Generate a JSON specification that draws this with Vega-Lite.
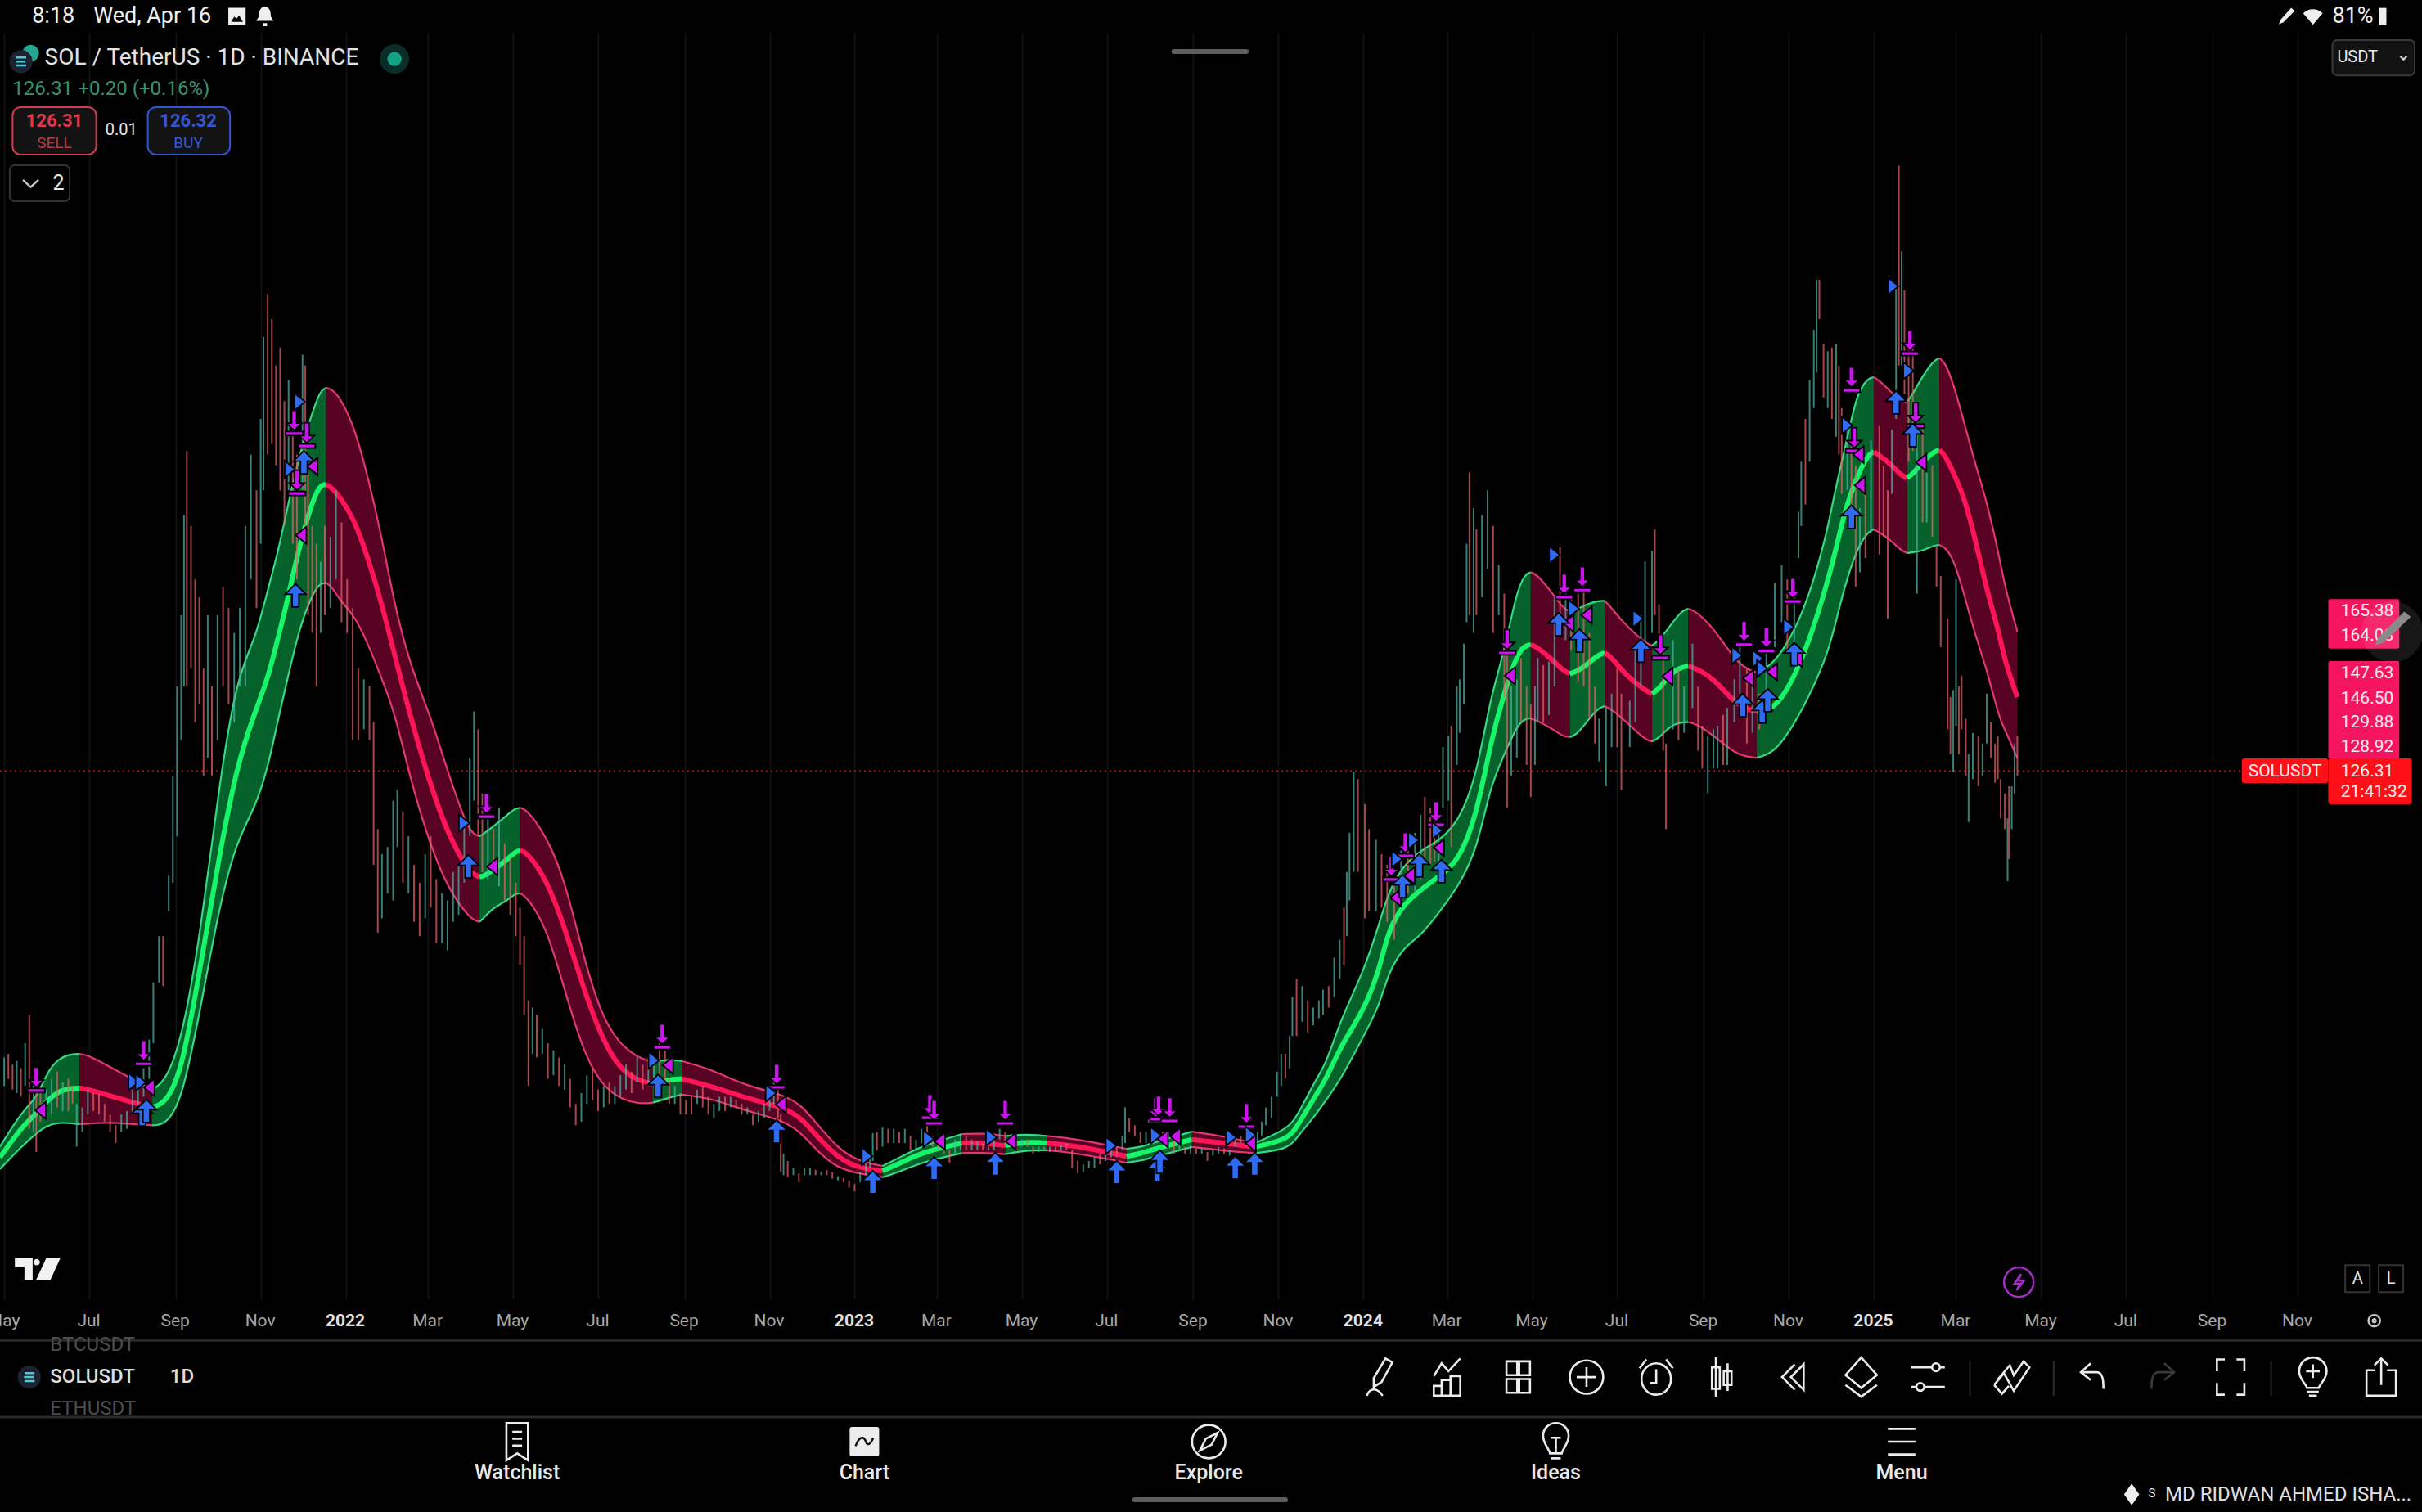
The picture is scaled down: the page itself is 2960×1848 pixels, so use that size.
{
"$schema":"https://vega.github.io/schema/vega-lite/v6.json",
"width":2842,"height":1548,
"autosize":{"type":"none"},
"padding":{"left":0,"top":40,"right":118,"bottom":260},
"background":"#000000",
"config":{"view":{"stroke":null},"font":"Roboto","text":{"font":"Roboto"}},
"datasets":{
"priceline":[{"d":"2021-04-28","d2":"2025-09-22","p":126.31}],
"candles":[
{"d":"2021-05-01","p":38,"h":46,"s":"u"},{"d":"2021-05-04","p":40,"h":47,"s":"d"},{"d":"2021-05-07","p":37,"h":44,"s":"d"},{"d":"2021-05-10","p":36,"h":45,"s":"u"},{"d":"2021-05-13","p":35,"h":43,"s":"d"},{"d":"2021-05-16","p":38,"h":50,"s":"u"},{"d":"2021-05-19","p":26,"h":58,"s":"d"},{"d":"2021-05-22","p":25,"h":40,"s":"u"},{"d":"2021-05-24","p":19.5,"h":36,"s":"d"},{"d":"2021-05-27","p":28,"h":38,"s":"d"},{"d":"2021-05-31","p":29,"h":37,"s":"u"},
{"d":"2021-06-04","p":30,"h":40,"s":"u"},{"d":"2021-06-08","p":32,"h":42,"s":"d"},{"d":"2021-06-12","p":31,"h":39,"s":"u"},{"d":"2021-06-16","p":31,"h":40,"s":"d"},{"d":"2021-06-19","p":33,"h":38,"s":"d"},{"d":"2021-06-22","p":21,"h":33,"s":"u"},{"d":"2021-06-26","p":25,"h":32,"s":"u"},{"d":"2021-06-30","p":30,"h":37,"s":"u"},
{"d":"2021-07-04","p":31,"h":36,"s":"d"},{"d":"2021-07-08","p":30,"h":36,"s":"d"},{"d":"2021-07-12","p":28,"h":33,"s":"d"},{"d":"2021-07-16","p":25,"h":30,"s":"d"},{"d":"2021-07-20","p":22,"h":27,"s":"d"},{"d":"2021-07-24","p":25,"h":30,"s":"u"},{"d":"2021-07-28","p":26,"h":31,"s":"u"},
{"d":"2021-08-01","p":30,"h":37,"s":"u"},{"d":"2021-08-05","p":33,"h":40,"s":"u"},{"d":"2021-08-09","p":35,"h":43,"s":"u"},{"d":"2021-08-13","p":40,"h":51,"s":"u"},{"d":"2021-08-16","p":50,"h":67,"s":"u"},{"d":"2021-08-20","p":67,"h":80,"s":"u"},{"d":"2021-08-23","p":66,"h":80,"s":"d"},{"d":"2021-08-27","p":87,"h":97,"s":"u"},{"d":"2021-08-30","p":95,"h":125,"s":"u"},
{"d":"2021-09-02","p":108,"h":150,"s":"u"},{"d":"2021-09-05","p":135,"h":170,"s":"u"},{"d":"2021-09-07","p":150,"h":198,"s":"u"},{"d":"2021-09-09","p":150,"h":216,"s":"d"},{"d":"2021-09-12","p":155,"h":195,"s":"d"},{"d":"2021-09-15","p":140,"h":180,"s":"d"},{"d":"2021-09-18","p":145,"h":175,"s":"d"},{"d":"2021-09-21","p":125,"h":155,"s":"d"},{"d":"2021-09-24","p":130,"h":170,"s":"u"},{"d":"2021-09-27","p":125,"h":150,"s":"d"},
{"d":"2021-10-01","p":135,"h":170,"s":"u"},{"d":"2021-10-05","p":150,"h":178,"s":"d"},{"d":"2021-10-09","p":145,"h":172,"s":"d"},{"d":"2021-10-13","p":140,"h":165,"s":"u"},{"d":"2021-10-17","p":150,"h":172,"s":"u"},{"d":"2021-10-21","p":150,"h":195,"s":"u"},{"d":"2021-10-25","p":180,"h":215,"s":"u"},{"d":"2021-10-29","p":172,"h":205,"s":"d"},
{"d":"2021-11-01","p":190,"h":225,"s":"u"},{"d":"2021-11-03","p":205,"h":248,"s":"u"},{"d":"2021-11-06","p":215,"h":260,"s":"d"},{"d":"2021-11-09","p":218,"h":253,"s":"d"},{"d":"2021-11-12","p":212,"h":240,"s":"d"},{"d":"2021-11-15","p":205,"h":245,"s":"d"},{"d":"2021-11-18","p":195,"h":230,"s":"d"},{"d":"2021-11-21","p":205,"h":236,"s":"u"},{"d":"2021-11-24","p":190,"h":222,"s":"d"},{"d":"2021-11-27","p":180,"h":215,"s":"d"},
{"d":"2021-12-01","p":205,"h":243,"s":"u"},{"d":"2021-12-03","p":195,"h":240,"s":"d"},{"d":"2021-12-05","p":170,"h":210,"s":"d"},{"d":"2021-12-08","p":165,"h":195,"s":"d"},{"d":"2021-12-11","p":150,"h":190,"s":"d"},{"d":"2021-12-14","p":165,"h":185,"s":"u"},{"d":"2021-12-17","p":170,"h":195,"s":"d"},{"d":"2021-12-21","p":172,"h":192,"s":"u"},{"d":"2021-12-25","p":180,"h":205,"s":"u"},{"d":"2021-12-29","p":168,"h":196,"s":"d"},
{"d":"2022-01-02","p":165,"h":180,"s":"d"},{"d":"2022-01-06","p":135,"h":172,"s":"d"},{"d":"2022-01-10","p":135,"h":155,"s":"d"},{"d":"2022-01-14","p":138,"h":152,"s":"u"},{"d":"2022-01-18","p":135,"h":150,"s":"d"},{"d":"2022-01-21","p":100,"h":140,"s":"d"},{"d":"2022-01-24","p":81,"h":110,"s":"d"},{"d":"2022-01-27","p":85,"h":103,"s":"u"},{"d":"2022-01-31","p":92,"h":105,"s":"u"},
{"d":"2022-02-04","p":90,"h":118,"s":"u"},{"d":"2022-02-07","p":105,"h":121,"s":"u"},{"d":"2022-02-11","p":95,"h":115,"s":"d"},{"d":"2022-02-15","p":92,"h":108,"s":"u"},{"d":"2022-02-19","p":84,"h":100,"s":"d"},{"d":"2022-02-23","p":80,"h":95,"s":"d"},{"d":"2022-02-27","p":85,"h":103,"s":"u"},
{"d":"2022-03-03","p":88,"h":108,"s":"d"},{"d":"2022-03-07","p":78,"h":96,"s":"d"},{"d":"2022-03-11","p":78,"h":92,"s":"u"},{"d":"2022-03-15","p":76,"h":90,"s":"u"},{"d":"2022-03-19","p":84,"h":98,"s":"u"},{"d":"2022-03-23","p":86,"h":100,"s":"u"},{"d":"2022-03-27","p":95,"h":112,"s":"u"},{"d":"2022-03-31","p":108,"h":130,"s":"u"},
{"d":"2022-04-03","p":118,"h":143,"s":"u"},{"d":"2022-04-06","p":108,"h":138,"s":"d"},{"d":"2022-04-09","p":98,"h":120,"s":"d"},{"d":"2022-04-13","p":96,"h":113,"s":"u"},{"d":"2022-04-17","p":98,"h":110,"s":"d"},{"d":"2022-04-21","p":94,"h":116,"s":"u"},{"d":"2022-04-25","p":90,"h":106,"s":"d"},{"d":"2022-04-29","p":86,"h":102,"s":"d"},
{"d":"2022-05-03","p":80,"h":95,"s":"d"},{"d":"2022-05-06","p":72,"h":88,"s":"d"},{"d":"2022-05-09","p":58,"h":80,"s":"d"},{"d":"2022-05-12","p":38,"h":62,"s":"d"},{"d":"2022-05-15","p":47,"h":60,"s":"u"},{"d":"2022-05-18","p":46,"h":58,"s":"d"},{"d":"2022-05-22","p":47,"h":54,"s":"u"},{"d":"2022-05-26","p":40,"h":50,"s":"d"},{"d":"2022-05-30","p":41,"h":48,"s":"u"},
{"d":"2022-06-03","p":38,"h":46,"s":"d"},{"d":"2022-06-07","p":37,"h":44,"s":"u"},{"d":"2022-06-11","p":32,"h":40,"s":"d"},{"d":"2022-06-15","p":27,"h":33,"s":"d"},{"d":"2022-06-19","p":28,"h":36,"s":"u"},{"d":"2022-06-23","p":33,"h":41,"s":"u"},{"d":"2022-06-27","p":34,"h":43,"s":"d"},
{"d":"2022-07-01","p":31,"h":37,"s":"d"},{"d":"2022-07-05","p":32,"h":38,"s":"u"},{"d":"2022-07-09","p":33,"h":39,"s":"d"},{"d":"2022-07-13","p":33,"h":38,"s":"u"},{"d":"2022-07-17","p":35,"h":41,"s":"u"},{"d":"2022-07-21","p":37,"h":44,"s":"u"},{"d":"2022-07-25","p":36,"h":42,"s":"d"},{"d":"2022-07-29","p":39,"h":46,"s":"u"},
{"d":"2022-08-02","p":37,"h":44,"s":"d"},{"d":"2022-08-06","p":38,"h":46,"s":"u"},{"d":"2022-08-10","p":38,"h":46,"s":"u"},{"d":"2022-08-14","p":41,"h":50,"s":"d"},{"d":"2022-08-18","p":38,"h":48,"s":"d"},{"d":"2022-08-21","p":33,"h":40,"s":"d"},{"d":"2022-08-25","p":33,"h":38,"s":"u"},{"d":"2022-08-29","p":30,"h":36,"s":"d"},
{"d":"2022-09-02","p":30,"h":34,"s":"d"},{"d":"2022-09-06","p":30,"h":35,"s":"d"},{"d":"2022-09-10","p":33,"h":37,"s":"u"},{"d":"2022-09-14","p":32,"h":38,"s":"d"},{"d":"2022-09-18","p":30,"h":35,"s":"d"},{"d":"2022-09-22","p":29,"h":33,"s":"u"},{"d":"2022-09-26","p":31,"h":35,"s":"u"},{"d":"2022-09-30","p":31,"h":35,"s":"d"},
{"d":"2022-10-04","p":32,"h":35,"s":"u"},{"d":"2022-10-08","p":32,"h":34,"s":"d"},{"d":"2022-10-12","p":30,"h":33,"s":"d"},{"d":"2022-10-16","p":30,"h":32,"s":"u"},{"d":"2022-10-20","p":27,"h":30,"s":"d"},{"d":"2022-10-24","p":28,"h":31,"s":"u"},{"d":"2022-10-28","p":29,"h":33,"s":"u"},
{"d":"2022-11-01","p":31,"h":35,"s":"u"},{"d":"2022-11-04","p":33,"h":39,"s":"u"},{"d":"2022-11-07","p":29,"h":38,"s":"d"},{"d":"2022-11-09","p":14,"h":30,"s":"d"},{"d":"2022-11-11","p":13,"h":19,"s":"u"},{"d":"2022-11-14","p":12.5,"h":17,"s":"d"},{"d":"2022-11-18","p":13,"h":15,"s":"u"},{"d":"2022-11-22","p":11,"h":13.5,"s":"d"},{"d":"2022-11-26","p":13,"h":15,"s":"u"},{"d":"2022-11-30","p":13,"h":15,"s":"u"},
{"d":"2022-12-04","p":13,"h":14.5,"s":"d"},{"d":"2022-12-08","p":13,"h":14,"s":"u"},{"d":"2022-12-12","p":13,"h":14.5,"s":"d"},{"d":"2022-12-16","p":12,"h":14,"s":"d"},{"d":"2022-12-20","p":11.5,"h":12.7,"s":"u"},{"d":"2022-12-24","p":11,"h":12.2,"s":"d"},{"d":"2022-12-28","p":9.5,"h":11.5,"s":"d"},
{"d":"2023-01-01","p":8.4,"h":10.5,"s":"d"},{"d":"2023-01-05","p":11,"h":14,"s":"u"},{"d":"2023-01-09","p":13,"h":17,"s":"u"},{"d":"2023-01-12","p":15,"h":18,"s":"u"},{"d":"2023-01-14","p":17,"h":24.8,"s":"u"},{"d":"2023-01-17","p":20,"h":25,"s":"d"},{"d":"2023-01-21","p":21,"h":26.4,"s":"u"},{"d":"2023-01-25","p":22,"h":26,"s":"d"},{"d":"2023-01-29","p":22,"h":26,"s":"u"},
{"d":"2023-02-02","p":22,"h":25,"s":"d"},{"d":"2023-02-06","p":22,"h":26,"s":"u"},{"d":"2023-02-10","p":20,"h":24,"s":"d"},{"d":"2023-02-14","p":20,"h":23,"s":"u"},{"d":"2023-02-18","p":22,"h":26,"s":"u"},{"d":"2023-02-22","p":22,"h":27,"s":"d"},{"d":"2023-02-26","p":21,"h":24,"s":"d"},
{"d":"2023-03-02","p":20,"h":23,"s":"d"},{"d":"2023-03-06","p":19,"h":22,"s":"d"},{"d":"2023-03-10","p":16.5,"h":20,"s":"d"},{"d":"2023-03-14","p":19,"h":23,"s":"u"},{"d":"2023-03-18","p":20,"h":24,"s":"u"},{"d":"2023-03-22","p":20,"h":24,"s":"d"},{"d":"2023-03-26","p":20,"h":23,"s":"u"},{"d":"2023-03-30","p":20,"h":22.5,"s":"u"},
{"d":"2023-04-03","p":20,"h":22,"s":"d"},{"d":"2023-04-07","p":20,"h":21,"s":"u"},{"d":"2023-04-11","p":20,"h":23,"s":"u"},{"d":"2023-04-15","p":23,"h":26,"s":"u"},{"d":"2023-04-19","p":21,"h":25,"s":"d"},{"d":"2023-04-23","p":21,"h":23,"s":"u"},{"d":"2023-04-27","p":20,"h":23,"s":"d"},
{"d":"2023-05-01","p":21,"h":23,"s":"u"},{"d":"2023-05-05","p":21,"h":23,"s":"d"},{"d":"2023-05-09","p":19,"h":21,"s":"d"},{"d":"2023-05-13","p":19.5,"h":21,"s":"u"},{"d":"2023-05-17","p":20,"h":21,"s":"d"},{"d":"2023-05-21","p":19.5,"h":21,"s":"u"},{"d":"2023-05-25","p":19.5,"h":21,"s":"d"},{"d":"2023-05-29","p":20,"h":21.5,"s":"u"},
{"d":"2023-06-02","p":20,"h":22,"s":"d"},{"d":"2023-06-06","p":15,"h":20,"s":"d"},{"d":"2023-06-10","p":13.5,"h":17,"s":"d"},{"d":"2023-06-14","p":14,"h":16,"s":"u"},{"d":"2023-06-18","p":15,"h":17,"s":"u"},{"d":"2023-06-22","p":15,"h":18,"s":"u"},{"d":"2023-06-26","p":16,"h":19,"s":"d"},{"d":"2023-06-30","p":17,"h":19,"s":"u"},
{"d":"2023-07-04","p":18,"h":20,"s":"u"},{"d":"2023-07-08","p":18,"h":21,"s":"d"},{"d":"2023-07-12","p":20,"h":24,"s":"u"},{"d":"2023-07-14","p":22,"h":32,"s":"u"},{"d":"2023-07-17","p":25,"h":29,"s":"d"},{"d":"2023-07-21","p":24,"h":27,"s":"d"},{"d":"2023-07-25","p":22,"h":25,"s":"d"},{"d":"2023-07-29","p":22,"h":25,"s":"u"},
{"d":"2023-08-02","p":22,"h":25,"s":"d"},{"d":"2023-08-06","p":22,"h":25,"s":"u"},{"d":"2023-08-10","p":23,"h":25,"s":"d"},{"d":"2023-08-14","p":23,"h":25,"s":"u"},{"d":"2023-08-18","p":19,"h":24,"s":"d"},{"d":"2023-08-22","p":20,"h":22,"s":"u"},{"d":"2023-08-26","p":19,"h":21,"s":"d"},{"d":"2023-08-30","p":19,"h":21.5,"s":"u"},
{"d":"2023-09-03","p":19,"h":20.5,"s":"d"},{"d":"2023-09-07","p":19,"h":20.5,"s":"u"},{"d":"2023-09-11","p":17,"h":19.5,"s":"d"},{"d":"2023-09-15","p":18.5,"h":20,"s":"u"},{"d":"2023-09-19","p":19,"h":21,"s":"u"},{"d":"2023-09-23","p":19,"h":20.5,"s":"d"},{"d":"2023-09-27","p":18.5,"h":20,"s":"u"},
{"d":"2023-10-01","p":21,"h":24,"s":"u"},{"d":"2023-10-05","p":22,"h":24,"s":"d"},{"d":"2023-10-09","p":21,"h":23,"s":"d"},{"d":"2023-10-13","p":20.5,"h":22,"s":"u"},{"d":"2023-10-17","p":22,"h":25,"s":"u"},{"d":"2023-10-20","p":24,"h":28,"s":"u"},{"d":"2023-10-23","p":27,"h":32,"s":"u"},{"d":"2023-10-27","p":29,"h":35,"s":"u"},{"d":"2023-10-31","p":35,"h":42,"s":"u"},
{"d":"2023-11-03","p":38,"h":47,"s":"u"},{"d":"2023-11-06","p":40,"h":47,"s":"d"},{"d":"2023-11-09","p":43,"h":52,"s":"u"},{"d":"2023-11-11","p":52,"h":63,"s":"u"},{"d":"2023-11-14","p":52,"h":68,"s":"d"},{"d":"2023-11-18","p":56,"h":66,"s":"u"},{"d":"2023-11-22","p":53,"h":62,"s":"d"},{"d":"2023-11-26","p":55,"h":60,"s":"u"},{"d":"2023-11-30","p":57,"h":62,"s":"u"},
{"d":"2023-12-03","p":58,"h":65,"s":"u"},{"d":"2023-12-07","p":60,"h":66,"s":"d"},{"d":"2023-12-11","p":63,"h":74,"s":"u"},{"d":"2023-12-15","p":68,"h":79,"s":"u"},{"d":"2023-12-18","p":72,"h":88,"s":"d"},{"d":"2023-12-20","p":80,"h":98,"s":"u"},{"d":"2023-12-22","p":90,"h":109,"s":"u"},{"d":"2023-12-25","p":98,"h":126,"s":"u"},{"d":"2023-12-28","p":98,"h":124,"s":"d"},
{"d":"2024-01-02","p":85,"h":117,"s":"d"},{"d":"2024-01-05","p":87,"h":110,"s":"d"},{"d":"2024-01-10","p":87,"h":107,"s":"u"},{"d":"2024-01-14","p":88,"h":103,"s":"d"},{"d":"2024-01-18","p":84,"h":100,"s":"d"},{"d":"2024-01-23","p":79,"h":96,"s":"d"},{"d":"2024-01-28","p":88,"h":104,"s":"u"},
{"d":"2024-02-02","p":92,"h":104,"s":"d"},{"d":"2024-02-07","p":92,"h":109,"s":"u"},{"d":"2024-02-11","p":96,"h":114,"s":"u"},{"d":"2024-02-14","p":100,"h":119,"s":"d"},{"d":"2024-02-18","p":100,"h":116,"s":"d"},{"d":"2024-02-21","p":101,"h":114,"s":"d"},{"d":"2024-02-24","p":100,"h":112,"s":"u"},{"d":"2024-02-27","p":116,"h":133,"s":"u"},
{"d":"2024-03-02","p":118,"h":136,"s":"u"},{"d":"2024-03-04","p":105,"h":139,"s":"d"},{"d":"2024-03-08","p":128,"h":150,"s":"u"},{"d":"2024-03-10","p":137,"h":152,"s":"u"},{"d":"2024-03-13","p":145,"h":162,"s":"u"},{"d":"2024-03-15","p":168,"h":190,"s":"u"},{"d":"2024-03-17","p":170,"h":210,"s":"d"},{"d":"2024-03-20","p":165,"h":200,"s":"u"},{"d":"2024-03-22","p":170,"h":194,"s":"d"},{"d":"2024-03-26","p":175,"h":198,"s":"u"},{"d":"2024-03-30","p":183,"h":205,"s":"u"},
{"d":"2024-04-03","p":165,"h":195,"s":"d"},{"d":"2024-04-07","p":170,"h":184,"s":"u"},{"d":"2024-04-11","p":147,"h":176,"s":"d"},{"d":"2024-04-13","p":116,"h":160,"s":"d"},{"d":"2024-04-16","p":125,"h":150,"s":"u"},{"d":"2024-04-20","p":130,"h":152,"s":"u"},{"d":"2024-04-23","p":140,"h":158,"s":"d"},{"d":"2024-04-27","p":128,"h":150,"s":"d"},{"d":"2024-04-30","p":119,"h":145,"s":"d"},
{"d":"2024-05-03","p":128,"h":150,"s":"u"},{"d":"2024-05-05","p":140,"h":158,"s":"u"},{"d":"2024-05-09","p":140,"h":156,"s":"d"},{"d":"2024-05-13","p":142,"h":157,"s":"u"},{"d":"2024-05-17","p":150,"h":175,"s":"u"},{"d":"2024-05-21","p":165,"h":189,"s":"d"},{"d":"2024-05-25","p":163,"h":180,"s":"u"},{"d":"2024-05-29","p":160,"h":175,"s":"d"},
{"d":"2024-06-03","p":151,"h":176,"s":"d"},{"d":"2024-06-07","p":150,"h":178,"s":"d"},{"d":"2024-06-11","p":141,"h":165,"s":"d"},{"d":"2024-06-15","p":134,"h":150,"s":"d"},{"d":"2024-06-18","p":129,"h":141,"s":"u"},{"d":"2024-06-23","p":122,"h":144,"s":"u"},{"d":"2024-06-27","p":133,"h":148,"s":"u"},
{"d":"2024-07-01","p":133,"h":155,"s":"d"},{"d":"2024-07-04","p":121,"h":148,"s":"d"},{"d":"2024-07-10","p":133,"h":146,"s":"u"},{"d":"2024-07-14","p":140,"h":160,"s":"u"},{"d":"2024-07-18","p":150,"h":170,"s":"u"},{"d":"2024-07-21","p":160,"h":185,"s":"u"},{"d":"2024-07-26","p":165,"h":188,"s":"u"},{"d":"2024-07-28","p":170,"h":194,"s":"d"},{"d":"2024-07-31","p":161,"h":173,"s":"d"},
{"d":"2024-08-03","p":132,"h":160,"s":"d"},{"d":"2024-08-05","p":110,"h":134,"s":"d"},{"d":"2024-08-10","p":138,"h":163,"s":"u"},{"d":"2024-08-14","p":135,"h":155,"s":"d"},{"d":"2024-08-18","p":137,"h":150,"s":"u"},{"d":"2024-08-24","p":144,"h":162,"s":"u"},{"d":"2024-08-28","p":132,"h":150,"s":"d"},{"d":"2024-08-31","p":127,"h":139,"s":"d"},
{"d":"2024-09-04","p":120,"h":136,"s":"u"},{"d":"2024-09-08","p":127,"h":138,"s":"u"},{"d":"2024-09-11","p":127,"h":139,"s":"u"},{"d":"2024-09-15","p":128,"h":142,"s":"d"},{"d":"2024-09-18","p":128,"h":144,"s":"u"},{"d":"2024-09-23","p":140,"h":152,"s":"u"},{"d":"2024-09-27","p":148,"h":161,"s":"u"},
{"d":"2024-10-02","p":134,"h":155,"s":"d"},{"d":"2024-10-06","p":137,"h":150,"s":"u"},{"d":"2024-10-11","p":138,"h":148,"s":"d"},{"d":"2024-10-16","p":148,"h":160,"s":"u"},{"d":"2024-10-22","p":161,"h":179,"s":"u"},{"d":"2024-10-27","p":168,"h":184,"s":"u"},{"d":"2024-10-31","p":160,"h":180,"s":"d"},
{"d":"2024-11-05","p":160,"h":175,"s":"u"},{"d":"2024-11-08","p":186,"h":199,"s":"u"},{"d":"2024-11-10","p":195,"h":213,"s":"u"},{"d":"2024-11-13","p":201,"h":225,"s":"d"},{"d":"2024-11-16","p":213,"h":236,"s":"u"},{"d":"2024-11-19","p":228,"h":250,"s":"u"},{"d":"2024-11-21","p":238,"h":264,"s":"u"},{"d":"2024-11-23","p":253,"h":264,"s":"d"},{"d":"2024-11-26","p":231,"h":246,"s":"d"},{"d":"2024-11-29","p":228,"h":244,"s":"u"},
{"d":"2024-12-02","p":225,"h":245,"s":"d"},{"d":"2024-12-05","p":220,"h":246,"s":"u"},{"d":"2024-12-07","p":215,"h":240,"s":"d"},{"d":"2024-12-09","p":204,"h":228,"s":"d"},{"d":"2024-12-13","p":205,"h":224,"s":"u"},{"d":"2024-12-16","p":195,"h":223,"s":"d"},{"d":"2024-12-19","p":178,"h":212,"s":"d"},{"d":"2024-12-22","p":182,"h":200,"s":"u"},{"d":"2024-12-26","p":186,"h":206,"s":"d"},{"d":"2024-12-30","p":193,"h":219,"s":"u"},
{"d":"2025-01-05","p":187,"h":223,"s":"d"},{"d":"2025-01-08","p":192,"h":212,"s":"d"},{"d":"2025-01-11","p":169,"h":205,"s":"d"},{"d":"2025-01-14","p":204,"h":222,"s":"u"},{"d":"2025-01-17","p":225,"h":262,"s":"u"},{"d":"2025-01-19","p":240,"h":296,"s":"d"},{"d":"2025-01-21","p":240,"h":272,"s":"u"},{"d":"2025-01-23","p":232,"h":261,"s":"d"},{"d":"2025-01-26","p":213,"h":248,"s":"d"},{"d":"2025-01-29","p":216,"h":246,"s":"d"},
{"d":"2025-02-01","p":176,"h":228,"s":"u"},{"d":"2025-02-05","p":196,"h":222,"s":"d"},{"d":"2025-02-08","p":196,"h":210,"s":"u"},{"d":"2025-02-12","p":192,"h":212,"s":"d"},{"d":"2025-02-15","p":178,"h":189,"s":"d"},{"d":"2025-02-18","p":161,"h":181,"s":"d"},{"d":"2025-02-23","p":138,"h":169,"s":"d"},{"d":"2025-02-25","p":131,"h":147,"s":"d"},{"d":"2025-02-27","p":126,"h":149,"s":"u"},
{"d":"2025-03-01","p":139,"h":180,"s":"u"},{"d":"2025-03-03","p":131,"h":150,"s":"d"},{"d":"2025-03-05","p":138,"h":153,"s":"d"},{"d":"2025-03-08","p":125,"h":141,"s":"d"},{"d":"2025-03-10","p":112,"h":131,"s":"u"},{"d":"2025-03-13","p":124,"h":137,"s":"u"},{"d":"2025-03-17","p":122,"h":136,"s":"d"},{"d":"2025-03-20","p":125,"h":134,"s":"u"},{"d":"2025-03-23","p":134,"h":148,"s":"u"},{"d":"2025-03-26","p":130,"h":140,"s":"d"},{"d":"2025-03-29","p":123,"h":134,"s":"d"},{"d":"2025-03-31","p":124,"h":136,"s":"d"},
{"d":"2025-04-02","p":113,"h":124,"s":"d"},{"d":"2025-04-05","p":110,"h":120,"s":"d"},{"d":"2025-04-07","p":95.4,"h":113,"s":"u"},{"d":"2025-04-08","p":101.6,"h":122,"s":"d"},{"d":"2025-04-10","p":110,"h":122,"s":"u"},{"d":"2025-04-12","p":120,"h":134,"s":"u"},{"d":"2025-04-14","p":125,"h":136,"s":"d"}
],
"bands":[
{"g":1,"dir":"up","d":"2021-04-28","u":21,"m":18,"l":14.7},{"g":1,"dir":"up","d":"2021-05-14","u":31,"m":26.8,"l":21.3},{"g":1,"dir":"up","d":"2021-05-25","u":35,"m":30.5,"l":25},{"g":1,"dir":"up","d":"2021-05-31","u":41.3,"m":33.5,"l":26.8},{"g":1,"dir":"up","d":"2021-06-09","u":45.9,"m":36.7,"l":27.8},{"g":1,"dir":"up","d":"2021-06-19","u":47,"m":37.4,"l":27.5},{"g":1,"dir":"up","d":"2021-06-24","u":47,"m":37.4,"l":27.3},
{"g":2,"dir":"down","d":"2021-06-24","u":47,"m":37.4,"l":27.3},{"g":2,"dir":"down","d":"2021-06-29","u":46.8,"m":37.2,"l":27.4},{"g":2,"dir":"down","d":"2021-07-13","u":44,"m":35.6,"l":27.8},{"g":2,"dir":"down","d":"2021-08-02","u":39.7,"m":33.3,"l":27.3},{"g":2,"dir":"down","d":"2021-08-15","u":37,"m":32,"l":27},
{"g":3,"dir":"up","d":"2021-08-15","u":37,"m":32,"l":27},{"g":3,"dir":"up","d":"2021-08-24","u":39,"m":33,"l":27},{"g":3,"dir":"up","d":"2021-09-05","u":50,"m":41,"l":33},{"g":3,"dir":"up","d":"2021-09-19","u":81,"m":72,"l":60},{"g":3,"dir":"up","d":"2021-10-02","u":122,"m":102,"l":88},{"g":3,"dir":"up","d":"2021-10-15","u":153,"m":128,"l":107},{"g":3,"dir":"up","d":"2021-10-28","u":163,"m":143,"l":116},{"g":3,"dir":"up","d":"2021-11-06","u":177,"m":152,"l":127},{"g":3,"dir":"up","d":"2021-11-13","u":187,"m":163,"l":140},{"g":3,"dir":"up","d":"2021-11-19","u":198,"m":172,"l":150},{"g":3,"dir":"up","d":"2021-11-29","u":215.6,"m":190,"l":167},{"g":3,"dir":"up","d":"2021-12-09","u":228,"m":203,"l":176.6},{"g":3,"dir":"up","d":"2021-12-14","u":233,"m":206.5,"l":179},{"g":3,"dir":"up","d":"2021-12-18","u":233.7,"m":206.6,"l":179},
{"g":4,"dir":"down","d":"2021-12-18","u":233.7,"m":206.6,"l":179},{"g":4,"dir":"down","d":"2021-12-22","u":233.3,"m":205.8,"l":178},{"g":4,"dir":"down","d":"2021-12-28","u":231,"m":203,"l":174},{"g":4,"dir":"down","d":"2022-01-07","u":223,"m":197,"l":170},{"g":4,"dir":"down","d":"2022-01-17","u":208.7,"m":186,"l":162},{"g":4,"dir":"down","d":"2022-01-27","u":191.7,"m":173,"l":152},{"g":4,"dir":"down","d":"2022-02-05","u":172.7,"m":159,"l":143},{"g":4,"dir":"down","d":"2022-02-17","u":155,"m":140.6,"l":123},{"g":4,"dir":"down","d":"2022-03-03","u":141.6,"m":122,"l":105},{"g":4,"dir":"down","d":"2022-03-16","u":125,"m":108,"l":93},{"g":4,"dir":"down","d":"2022-03-29","u":110.8,"m":99,"l":86},{"g":4,"dir":"down","d":"2022-04-03","u":108.5,"m":97.2,"l":84.5},{"g":4,"dir":"down","d":"2022-04-07","u":108,"m":96.6,"l":84},
{"g":5,"dir":"up","d":"2022-04-07","u":108,"m":96.6,"l":84},{"g":5,"dir":"up","d":"2022-04-11","u":109,"m":97,"l":85.5},{"g":5,"dir":"up","d":"2022-04-17","u":110.8,"m":98.6,"l":88},{"g":5,"dir":"up","d":"2022-04-27","u":114,"m":101.5,"l":90},{"g":5,"dir":"up","d":"2022-05-02","u":115.7,"m":103.5,"l":91.8},{"g":5,"dir":"up","d":"2022-05-06","u":116,"m":104,"l":92},
{"g":6,"dir":"down","d":"2022-05-06","u":116,"m":104,"l":92},{"g":6,"dir":"down","d":"2022-05-11","u":115.5,"m":103.5,"l":91},{"g":6,"dir":"down","d":"2022-05-25","u":108,"m":96,"l":82.6},{"g":6,"dir":"down","d":"2022-06-07","u":96,"m":82.6,"l":65},{"g":6,"dir":"down","d":"2022-06-20","u":75,"m":66,"l":48},{"g":6,"dir":"down","d":"2022-07-03","u":58,"m":52,"l":38.5},{"g":6,"dir":"down","d":"2022-07-16","u":50,"m":43,"l":34.6},{"g":6,"dir":"down","d":"2022-07-29","u":46,"m":39.6,"l":33},{"g":6,"dir":"down","d":"2022-08-09","u":44.7,"m":38.6,"l":33.3},
{"g":7,"dir":"up","d":"2022-08-09","u":44.7,"m":38.6,"l":33.3},{"g":7,"dir":"up","d":"2022-08-20","u":45.5,"m":39.8,"l":34.6},{"g":7,"dir":"up","d":"2022-08-30","u":45,"m":40,"l":35.6},
{"g":8,"dir":"down","d":"2022-08-30","u":45,"m":40,"l":35.6},{"g":8,"dir":"down","d":"2022-09-20","u":42.7,"m":38,"l":34.6},{"g":8,"dir":"down","d":"2022-10-15","u":38,"m":34.6,"l":31},{"g":8,"dir":"down","d":"2022-11-11","u":35.6,"m":32,"l":28.4},{"g":8,"dir":"down","d":"2022-11-24","u":32.6,"m":29,"l":24.8},{"g":8,"dir":"down","d":"2022-12-07","u":26.4,"m":23,"l":19},{"g":8,"dir":"down","d":"2022-12-20","u":20.6,"m":18,"l":15},{"g":8,"dir":"down","d":"2023-01-03","u":17,"m":15,"l":13.5},{"g":8,"dir":"down","d":"2023-01-21","u":15.6,"m":14.2,"l":12.4},
{"g":9,"dir":"up","d":"2023-01-21","u":15.6,"m":14.2,"l":12.4},{"g":9,"dir":"up","d":"2023-02-05","u":18.5,"m":16.8,"l":14.4},{"g":9,"dir":"up","d":"2023-02-19","u":21.3,"m":19.5,"l":16.7},{"g":9,"dir":"up","d":"2023-03-19","u":24.5,"m":22,"l":19.2},
{"g":10,"dir":"down","d":"2023-03-19","u":24.5,"m":22,"l":19.2},{"g":10,"dir":"down","d":"2023-04-03","u":24.8,"m":22,"l":19.3},{"g":10,"dir":"down","d":"2023-04-19","u":24,"m":21.3,"l":18.9},
{"g":11,"dir":"up","d":"2023-04-19","u":24,"m":21.3,"l":18.9},{"g":11,"dir":"up","d":"2023-05-04","u":24.5,"m":22.4,"l":20},{"g":11,"dir":"up","d":"2023-05-19","u":24,"m":22,"l":20},
{"g":12,"dir":"down","d":"2023-05-19","u":24,"m":22,"l":20},{"g":12,"dir":"down","d":"2023-06-01","u":23.5,"m":21.5,"l":19.5},{"g":12,"dir":"down","d":"2023-06-17","u":22.5,"m":20.6,"l":18.6},{"g":12,"dir":"down","d":"2023-07-15","u":20.4,"m":18.3,"l":16.5},
{"g":13,"dir":"up","d":"2023-07-15","u":20.4,"m":18.3,"l":16.5},{"g":13,"dir":"up","d":"2023-07-25","u":20.8,"m":19,"l":17},{"g":13,"dir":"up","d":"2023-08-06","u":22.5,"m":20.6,"l":18.3},{"g":13,"dir":"up","d":"2023-08-31","u":25.2,"m":23,"l":20.9},
{"g":14,"dir":"down","d":"2023-08-31","u":25.2,"m":23,"l":20.9},{"g":14,"dir":"down","d":"2023-09-24","u":23.8,"m":22,"l":19.8},{"g":14,"dir":"down","d":"2023-10-15","u":22,"m":20.9,"l":19.2},
{"g":15,"dir":"up","d":"2023-10-15","u":22,"m":20.9,"l":19.2},{"g":15,"dir":"up","d":"2023-11-08","u":26,"m":23,"l":20.2},{"g":15,"dir":"up","d":"2023-11-15","u":30,"m":27,"l":24},{"g":15,"dir":"up","d":"2023-11-28","u":40,"m":35.6,"l":30},{"g":15,"dir":"up","d":"2023-12-05","u":44,"m":39.7,"l":34},{"g":15,"dir":"up","d":"2023-12-16","u":57,"m":49.5,"l":40},{"g":15,"dir":"up","d":"2024-01-01","u":70,"m":59,"l":52},{"g":15,"dir":"up","d":"2024-01-12","u":83,"m":70,"l":60},{"g":15,"dir":"up","d":"2024-01-19","u":92.6,"m":82,"l":70},{"g":15,"dir":"up","d":"2024-01-30","u":100,"m":89,"l":77},{"g":15,"dir":"up","d":"2024-02-11","u":104,"m":93,"l":80},{"g":15,"dir":"up","d":"2024-02-25","u":107,"m":97,"l":87},{"g":15,"dir":"up","d":"2024-03-09","u":112,"m":101,"l":94},{"g":15,"dir":"up","d":"2024-03-22","u":124.5,"m":113.5,"l":103.7},{"g":15,"dir":"up","d":"2024-04-01","u":147,"m":134,"l":122},{"g":15,"dir":"up","d":"2024-04-10","u":158,"m":147,"l":130},{"g":15,"dir":"up","d":"2024-04-20","u":177,"m":159,"l":139},{"g":15,"dir":"up","d":"2024-04-26","u":181.5,"m":161.5,"l":141},{"g":15,"dir":"up","d":"2024-04-30","u":182,"m":161.7,"l":141},
{"g":16,"dir":"down","d":"2024-04-30","u":182,"m":161.7,"l":141},{"g":16,"dir":"down","d":"2024-05-04","u":181.5,"m":161.2,"l":140.5},{"g":16,"dir":"down","d":"2024-05-14","u":177,"m":158,"l":138.5},{"g":16,"dir":"down","d":"2024-05-23","u":172,"m":154.5,"l":136},{"g":16,"dir":"down","d":"2024-05-28","u":171,"m":153.6,"l":135.8},
{"g":17,"dir":"up","d":"2024-05-28","u":171,"m":153.6,"l":135.8},{"g":17,"dir":"up","d":"2024-06-02","u":171.5,"m":154.2,"l":136.5},{"g":17,"dir":"up","d":"2024-06-09","u":173,"m":156,"l":140},{"g":17,"dir":"up","d":"2024-06-17","u":174,"m":158.8,"l":143.8},{"g":17,"dir":"up","d":"2024-06-22","u":174,"m":159.4,"l":144.5},
{"g":18,"dir":"down","d":"2024-06-22","u":174,"m":159.4,"l":144.5},{"g":18,"dir":"down","d":"2024-06-27","u":172,"m":158.2,"l":143.5},{"g":18,"dir":"down","d":"2024-07-05","u":168,"m":154,"l":141},{"g":18,"dir":"down","d":"2024-07-21","u":162.2,"m":148.8,"l":135},{"g":18,"dir":"down","d":"2024-07-26","u":161.5,"m":148,"l":134.6},
{"g":19,"dir":"up","d":"2024-07-26","u":161.5,"m":148,"l":134.6},{"g":19,"dir":"up","d":"2024-07-31","u":162.8,"m":149.2,"l":135.5},{"g":19,"dir":"up","d":"2024-08-08","u":167,"m":153.7,"l":139},{"g":19,"dir":"up","d":"2024-08-16","u":171.2,"m":155.4,"l":140},{"g":19,"dir":"up","d":"2024-08-21","u":171.8,"m":155.7,"l":140},
{"g":20,"dir":"down","d":"2024-08-21","u":171.8,"m":155.7,"l":140},{"g":20,"dir":"down","d":"2024-08-27","u":171,"m":155,"l":139.5},{"g":20,"dir":"down","d":"2024-09-09","u":166,"m":152,"l":136},{"g":20,"dir":"down","d":"2024-09-24","u":157,"m":145,"l":131},{"g":20,"dir":"down","d":"2024-10-04","u":154.5,"m":143.5,"l":130.2},{"g":20,"dir":"down","d":"2024-10-09","u":154,"m":143,"l":130},
{"g":21,"dir":"up","d":"2024-10-09","u":154,"m":143,"l":130},{"g":21,"dir":"up","d":"2024-10-15","u":155,"m":143.4,"l":130.6},{"g":21,"dir":"up","d":"2024-10-25","u":158,"m":144.7,"l":132.7},{"g":21,"dir":"up","d":"2024-11-12","u":170.4,"m":158,"l":144},{"g":21,"dir":"up","d":"2024-11-28","u":192,"m":178,"l":158},{"g":21,"dir":"up","d":"2024-12-04","u":204.6,"m":187,"l":166.7},{"g":21,"dir":"up","d":"2024-12-11","u":216,"m":199,"l":178},{"g":21,"dir":"up","d":"2024-12-20","u":232.6,"m":209,"l":188.7},{"g":21,"dir":"up","d":"2024-12-28","u":236.4,"m":215,"l":193.5},{"g":21,"dir":"up","d":"2025-01-01","u":236.7,"m":215.8,"l":194},
{"g":22,"dir":"down","d":"2025-01-01","u":236.7,"m":215.8,"l":194},{"g":22,"dir":"down","d":"2025-01-06","u":235.5,"m":214.5,"l":193},{"g":22,"dir":"down","d":"2025-01-13","u":232.6,"m":212.4,"l":191},{"g":22,"dir":"down","d":"2025-01-21","u":230,"m":209,"l":188},{"g":22,"dir":"down","d":"2025-01-25","u":229.8,"m":208.5,"l":187.4},
{"g":23,"dir":"up","d":"2025-01-25","u":229.8,"m":208.5,"l":187.4},{"g":23,"dir":"up","d":"2025-01-29","u":232,"m":209.5,"l":187.6},{"g":23,"dir":"up","d":"2025-02-05","u":237,"m":213,"l":188},{"g":23,"dir":"up","d":"2025-02-13","u":241.4,"m":215.8,"l":189.5},{"g":23,"dir":"up","d":"2025-02-17","u":242,"m":216.3,"l":189.7},
{"g":24,"dir":"down","d":"2025-02-17","u":242,"m":216.3,"l":189.7},{"g":24,"dir":"down","d":"2025-02-21","u":241,"m":215,"l":189},{"g":24,"dir":"down","d":"2025-02-27","u":235,"m":210,"l":186},{"g":24,"dir":"down","d":"2025-03-07","u":223.8,"m":203,"l":175.7},{"g":24,"dir":"down","d":"2025-03-15","u":212,"m":191,"l":164},{"g":24,"dir":"down","d":"2025-03-23","u":202,"m":177,"l":155},{"g":24,"dir":"down","d":"2025-04-01","u":186.5,"m":165,"l":141},{"g":24,"dir":"down","d":"2025-04-05","u":178,"m":157,"l":138},{"g":24,"dir":"down","d":"2025-04-14","u":165.4,"m":147,"l":129.9}
],
"signals":[
{"k":"dn","d":"2021-05-24","p":39.7},{"k":"dn","d":"2021-08-09","p":47.2},{"k":"dn","d":"2021-11-25","p":223.9},{"k":"dn","d":"2021-12-04","p":220.4},{"k":"dn","d":"2021-11-27","p":207.1},{"k":"dn","d":"2022-04-12","p":116.5},{"k":"dn","d":"2022-08-16","p":51.8},{"k":"dn","d":"2022-11-06","p":40.6},{"k":"dn","d":"2023-02-24","p":32.1},{"k":"dn","d":"2023-02-27","p":30.5},{"k":"dn","d":"2023-04-19","p":30.5},{"k":"dn","d":"2023-08-05","p":31.2},{"k":"dn","d":"2023-08-07","p":31.7},{"k":"dn","d":"2023-08-15","p":31.2},{"k":"dn","d":"2023-10-09","p":29.6},{"k":"dn","d":"2024-01-21","p":98.9},{"k":"dn","d":"2024-01-31","p":105.5},{"k":"dn","d":"2024-02-22","p":114.2},{"k":"dn","d":"2024-04-13","p":162.4},{"k":"dn","d":"2024-05-24","p":178},{"k":"dn","d":"2024-06-06","p":180},{"k":"dn","d":"2024-08-01","p":161},{"k":"dn","d":"2024-09-30","p":164.7},{"k":"dn","d":"2024-10-16","p":163},{"k":"dn","d":"2024-11-04","p":176.8},{"k":"dn","d":"2024-12-16","p":236},{"k":"dn","d":"2024-12-18","p":219},{"k":"dn","d":"2025-01-27","p":246.3},{"k":"dn","d":"2025-01-31","p":226},
{"k":"tl","d":"2021-05-27","p":31.2},{"k":"tl","d":"2021-08-13","p":37.6},{"k":"tl","d":"2021-12-08","p":211.7},{"k":"tl","d":"2021-11-30","p":192.4},{"k":"tl","d":"2022-04-16","p":99.5},{"k":"tl","d":"2022-08-20","p":43.8},{"k":"tl","d":"2022-11-09","p":32.8},{"k":"tl","d":"2023-03-03","p":22.5},{"k":"tl","d":"2023-04-23","p":22.5},{"k":"tl","d":"2023-08-10","p":23.2},{"k":"tl","d":"2023-08-19","p":23.9},{"k":"tl","d":"2023-10-12","p":22},{"k":"tl","d":"2024-01-24","p":90.8},{"k":"tl","d":"2024-02-03","p":97},{"k":"tl","d":"2024-02-24","p":104.8},{"k":"tl","d":"2024-04-15","p":153},{"k":"tl","d":"2024-05-27","p":167.7},{"k":"tl","d":"2024-06-09","p":170},{"k":"tl","d":"2024-08-06","p":152.8},{"k":"tl","d":"2024-10-03","p":152.3},{"k":"tl","d":"2024-10-20","p":154.1},{"k":"tl","d":"2024-11-07","p":157.8},{"k":"tl","d":"2024-12-22","p":206.4},{"k":"tl","d":"2024-12-21","p":215},{"k":"tl","d":"2025-02-04","p":212.8},
{"k":"tr","d":"2021-08-02","p":39.2},{"k":"tr","d":"2021-08-07","p":39},{"k":"tr","d":"2021-11-22","p":210.9},{"k":"tr","d":"2021-11-29","p":229.8},{"k":"tr","d":"2022-03-27","p":111.7},{"k":"tr","d":"2022-08-10","p":45.2},{"k":"tr","d":"2022-11-02","p":36},{"k":"tr","d":"2023-01-10","p":18.3},{"k":"tr","d":"2023-02-23","p":23.2},{"k":"tr","d":"2023-04-09","p":23.6},{"k":"tr","d":"2023-07-04","p":21.3},{"k":"tr","d":"2023-08-05","p":24.1},{"k":"tr","d":"2023-09-28","p":23.6},{"k":"tr","d":"2023-10-12","p":24.3},{"k":"tr","d":"2024-01-25","p":101.6},{"k":"tr","d":"2024-02-06","p":106.9},{"k":"tr","d":"2024-02-23","p":109.6},{"k":"tr","d":"2024-05-17","p":186.9},{"k":"tr","d":"2024-05-31","p":171.8},{"k":"tr","d":"2024-07-16","p":169},{"k":"tr","d":"2024-09-25","p":158.7},{"k":"tr","d":"2024-10-10","p":157.8},{"k":"tr","d":"2024-10-13","p":155},{"k":"tr","d":"2024-11-01","p":166.7},{"k":"tr","d":"2024-12-13","p":223.2},{"k":"tr","d":"2025-01-15","p":262.2},{"k":"tr","d":"2025-01-26","p":238.5},
{"k":"up","d":"2021-08-08","p":30},{"k":"up","d":"2021-08-11","p":31},{"k":"up","d":"2021-11-26","p":175.5},{"k":"up","d":"2021-12-02","p":212.8},{"k":"up","d":"2022-03-30","p":99.5},{"k":"up","d":"2022-08-13","p":38},{"k":"up","d":"2022-11-06","p":25.2},{"k":"up","d":"2023-01-14","p":11},{"k":"up","d":"2023-02-27","p":14.9},{"k":"up","d":"2023-04-12","p":16.1},{"k":"up","d":"2023-07-08","p":13.8},{"k":"up","d":"2023-08-06","p":14.4},{"k":"up","d":"2023-08-08","p":16.7},{"k":"up","d":"2023-10-01","p":15.1},{"k":"up","d":"2023-10-15","p":16.1},{"k":"up","d":"2024-01-29","p":94},{"k":"up","d":"2024-02-10","p":99.8},{"k":"up","d":"2024-02-26","p":98.2},{"k":"up","d":"2024-05-20","p":167.4},{"k":"up","d":"2024-06-04","p":162.8},{"k":"up","d":"2024-07-18","p":160},{"k":"up","d":"2024-09-29","p":144.7},{"k":"up","d":"2024-10-13","p":142.9},{"k":"up","d":"2024-10-17","p":146.1},{"k":"up","d":"2024-11-05","p":159},{"k":"up","d":"2024-12-16","p":197.5},{"k":"up","d":"2025-01-17","p":229.6},{"k":"up","d":"2025-01-29","p":220.4}
]
},
"encoding":{
"x":{"field":"d","type":"temporal","title":null,"scale":{"type":"utc","domain":["2021-04-28","2025-11-21"]},
"axis":{"orient":"bottom","title":null,"domain":false,"ticks":false,"grid":true,"gridColor":"#151515","gridWidth":1.5,"labelFont":"Roboto","labelFontSize":21,"labelColor":{"condition":{"test":"utcmonth(datum.value)==0","value":"#e0e0e0"},"value":"#a8a8a8"},"labelFontWeight":{"condition":{"test":"utcmonth(datum.value)==0","value":"bold"},"value":"normal"},"labelPadding":15,"labelOffset":-1,"labelOverlap":false,"labelBound":false,"labelFlush":false,
"values":["2021-05-01","2021-07-01","2021-09-01","2021-11-01","2022-01-01","2022-03-01","2022-05-01","2022-07-01","2022-09-01","2022-11-01","2023-01-01","2023-03-01","2023-05-01","2023-07-01","2023-09-01","2023-11-01","2024-01-01","2024-03-01","2024-05-01","2024-07-01","2024-09-01","2024-11-01","2025-01-01","2025-03-01","2025-05-01","2025-07-01","2025-09-01","2025-11-01"],
"labelExpr":"utcmonth(datum.value)==0 ? utcFormat(datum.value,'%Y') : utcFormat(datum.value,'%b')"}},
"y":{"field":"p","type":"quantitative","title":null,"scale":{"domain":[-21.79,333.26],"nice":false,"zero":false},
"axis":{"orient":"right","title":null,"domain":false,"ticks":false,"grid":true,"gridColor":"#191919","gridWidth":1.5,"labelFont":"Roboto","labelFontSize":21,"labelColor":"#a8a8a8","labelPadding":19,"labelOverlap":false,"labelBound":false,"labelFlush":false,
"values":[-20,0,20,40,60,80,100,120,140,160,180,200,220,240,260,280,300,320],
"labelExpr":"datum.value<0 ? '' : format(datum.value,'.2f')"}}
},
"resolve":{"scale":{"color":"independent","shape":"independent"}},
"layer":[
{"data":{"name":"priceline"},"mark":{"type":"rule","stroke":"#a01c1c","strokeWidth":1.5,"strokeDash":[2,4]},"encoding":{"x2":{"field":"d2"}}},
{"data":{"name":"bands"},"mark":{"type":"area","interpolate":"basis","opacity":1},
"encoding":{"y":{"field":"u","type":"quantitative","axis":null},"y2":{"field":"l"},"detail":{"field":"g"},
"color":{"field":"dir","type":"nominal","legend":null,"scale":{"domain":["up","down"],"range":["#05622b","#590324"]}}}},
{"data":{"name":"bands"},"mark":{"type":"line","interpolate":"basis","strokeWidth":2.2},
"encoding":{"y":{"field":"u","type":"quantitative","axis":null},"detail":{"field":"g"},
"color":{"field":"dir","type":"nominal","legend":null,"scale":{"domain":["up","down"],"range":["#37d884","#e0386f"]}}}},
{"data":{"name":"bands"},"mark":{"type":"line","interpolate":"basis","strokeWidth":2.2},
"encoding":{"y":{"field":"l","type":"quantitative","axis":null},"detail":{"field":"g"},
"color":{"field":"dir","type":"nominal","legend":null,"scale":{"domain":["up","down"],"range":["#37d884","#e0386f"]}}}},
{"data":{"name":"bands"},"mark":{"type":"line","interpolate":"basis","strokeWidth":6},
"encoding":{"y":{"field":"m","type":"quantitative","axis":null},"detail":{"field":"g"},
"color":{"field":"dir","type":"nominal","legend":null,"scale":{"domain":["up","down"],"range":["#17f56a","#ff1458"]}}}},
{"data":{"name":"candles"},"mark":{"type":"rule","strokeWidth":2,"opacity":0.72},
"encoding":{"y2":{"field":"h"},"color":{"field":"s","type":"nominal","legend":null,"scale":{"domain":["u","d"],"range":["#4fb3a3","#e8626a"]}}}},
{"data":{"name":"signals"},"mark":{"type":"point","filled":true,"size":961,"opacity":1,"stroke":"#000000","strokeWidth":1.8},
"encoding":{"shape":{"field":"k","type":"nominal","legend":null,"scale":{"domain":["up","dn","tl","tr"],"range":["M0,-0.92 L0.82,-0.1 L0.27,-0.1 L0.27,0.9 L-0.27,0.9 L-0.27,-0.1 L-0.82,-0.1 Z","M-0.2,-1 L0.2,-1 L0.2,0.02 L0.6,0.02 L0,0.6 L-0.6,0.02 L-0.2,0.02 Z M-0.68,0.68 L0.68,0.68 L0.68,1 L-0.68,1 Z","M0.42,-0.68 L0.42,0.68 L-0.42,0 Z","M-0.42,-0.68 L-0.42,0.68 L0.42,0 Z"]}},
"color":{"field":"k","type":"nominal","legend":null,"scale":{"domain":["up","dn","tl","tr"],"range":["#2f6bf2","#cc14ee","#cc14ee","#2f6bf2"]}}}},
{"data":{"values":[{"d":"2021-04-28","d2":"2026-01-30","p":-33.3},{"d":"2021-04-28","d2":"2026-01-30","p":-54.8}]},"mark":{"type":"rule","stroke":"#2a2a2a","strokeWidth":3},"encoding":{"x2":{"field":"d2"}}},
{"data":{"values":[{"d":"2025-03-11","p":-39.2,"p2":-48.9},{"d":"2025-05-10","p":-39.2,"p2":-48.9},{"d":"2025-10-13","p":-39.2,"p2":-48.9}]},"mark":{"type":"rule","stroke":"#2a2a2a","strokeWidth":2},"encoding":{"y2":{"field":"p2"}}},
{"data":{"values":[{"d":"2023-08-18","d2":"2023-10-09","p":328},{"d":"2023-07-21","d2":"2023-11-06","p":-78}]},"mark":{"type":"rule","stroke":"#5e5e5e","strokeWidth":6,"strokeCap":"round"},"encoding":{"x2":{"field":"d2"}}},
{"data":{"values":[{"d":"2025-11-23","d2":"2026-01-24","p":333.26,"p2":319.5}]},"mark":{"type":"rect","fill":"#000000"},"encoding":{"x2":{"field":"d2"},"y2":{"field":"p2"}}},
{"data":{"values":[{"d":"2025-11-26","d2":"2026-01-24","p":331.2,"p2":321.3}]},"mark":{"type":"rect","fill":"#121212","stroke":"#3a3a3a","strokeWidth":2,"cornerRadius":6},"encoding":{"x2":{"field":"d2"},"y2":{"field":"p2"}}},
{"data":{"values":[{"d":"2021-05-07","d2":"2021-07-06","p":312.4,"p2":299.1,"side":"sell"},{"d":"2021-08-12","d2":"2021-10-10","p":312.4,"p2":299.1,"side":"buy"}]},"mark":{"type":"rect","fill":"#131313","strokeWidth":2,"cornerRadius":10},"encoding":{"x2":{"field":"d2"},"y2":{"field":"p2"},"stroke":{"field":"side","type":"nominal","legend":null,"scale":{"domain":["sell","buy"],"range":["#d6384e","#2f55d4"]}}}},
{"data":{"values":[{"d":"2021-05-05","d2":"2021-06-17","p":296.1,"p2":286}]},"mark":{"type":"rect","fill":"#000000","stroke":"#333333","strokeWidth":2,"cornerRadius":6},"encoding":{"x2":{"field":"d2"},"y2":{"field":"p2"}}},
{"data":{"values":[{"d":"2025-11-23","d2":"2026-01-13","p":174.5,"p2":160.6},{"d":"2025-11-23","d2":"2026-01-13","p":157.1,"p2":129.8}]},"mark":{"type":"rect","fill":"#f5145f","cornerRadius":2},"encoding":{"x2":{"field":"d2"},"y2":{"field":"p2"}}},
{"data":{"values":[{"d":"2025-09-22","d2":"2025-11-23","p":129.8,"p2":122.9},{"d":"2025-11-23","d2":"2026-01-22","p":129.8,"p2":117}]},"mark":{"type":"rect","fill":"#ff0f17","cornerRadius":3},"encoding":{"x2":{"field":"d2"},"y2":{"field":"p2"}}},
{"data":{"values":[{"t":"165.38","d":"2025-12-02","p":171.1},{"t":"164.08","d":"2025-12-02","p":164.2},{"t":"147.63","d":"2025-12-02","p":153.7},{"t":"146.50","d":"2025-12-02","p":146.6},{"t":"129.88","d":"2025-12-02","p":139.9},{"t":"128.92","d":"2025-12-02","p":133},{"t":"126.31","d":"2025-12-02","p":126.1},{"t":"21:41:32","d":"2025-12-02","p":120.4}]},"mark":{"type":"text","font":"Roboto","fontSize":21,"align":"left","baseline":"middle","fill":"#f6e8ec"},"encoding":{"text":{"field":"t"}}},
{"data":{"values":[{"t":"SOLUSDT","d":"2025-10-23","p":126.1}]},"mark":{"type":"text","font":"Roboto","fontSize":21,"align":"center","baseline":"middle","fill":"#f6e8ec"},"encoding":{"text":{"field":"t"}}},
{"data":{"values":[{"d":"2026-01-08","p":165.3}]},"mark":{"type":"point","filled":true,"shape":"circle","size":5600,"fill":"#ffffff","opacity":0.09}},
{"data":{"values":[{"d":"2026-01-08","p":166.3}]},"mark":{"type":"point","filled":true,"size":700,"opacity":1,"fill":"#8a8a8a","shape":"M1.1,-1.55 L1.7,-1.05 L-0.8,1.3 L-1.6,1.6 L-1.3,0.85 Z"}},
{"data":{"values":[{"t":"8:18","d":"2021-05-21","p":337.8},{"t":"Wed, Apr 16","d":"2021-07-04","p":337.8},{"t":"81%","d":"2025-11-26","p":337.8}]},"mark":{"type":"text","font":"Roboto","fontSize":27,"align":"left","baseline":"middle","fill":"#f0f0f0"},"encoding":{"text":{"field":"t"}}},
{"data":{"values":[{"t":"SOL / TetherUS · 1D · BINANCE","d":"2021-05-30","p":326.1}]},"mark":{"type":"text","font":"Roboto","fontSize":28,"align":"left","baseline":"middle","fill":"#e2e2e2"},"encoding":{"text":{"field":"t"}}},
{"data":{"values":[{"t":"126.31","d":"2021-05-07","p":317.4},{"t":"+0.20 (+0.16%)","d":"2021-06-23","p":317.4}]},"mark":{"type":"text","font":"Roboto","fontSize":24,"align":"left","baseline":"middle","fill":"#39906f"},"encoding":{"text":{"field":"t"}}},
{"data":{"values":[{"t":"126.31","d":"2021-06-06","p":308.5,"side":"sell"},{"t":"126.32","d":"2021-09-10","p":308.5,"side":"buy"}]},"mark":{"type":"text","font":"Roboto","fontSize":22,"fontWeight":"bold","align":"center","baseline":"middle"},"encoding":{"text":{"field":"t"},"color":{"field":"side","type":"nominal","legend":null,"scale":{"domain":["sell","buy"],"range":["#e0384f","#3557d6"]}}}},
{"data":{"values":[{"t":"SELL","d":"2021-06-06","p":302.3,"side":"sell"},{"t":"BUY","d":"2021-09-10","p":302.3,"side":"buy"}]},"mark":{"type":"text","font":"Roboto","fontSize":19,"align":"center","baseline":"middle"},"encoding":{"text":{"field":"t"},"color":{"field":"side","type":"nominal","legend":null,"scale":{"domain":["sell","buy"],"range":["#b43a4a","#3557d6"]}}}},
{"data":{"values":[{"t":"0.01","d":"2021-07-24","p":306},{"t":"USDT","d":"2025-12-14","p":326.3},{"t":"A","d":"2025-12-14","p":-16},{"t":"L","d":"2026-01-07","p":-16}]},"mark":{"type":"text","font":"Roboto","fontSize":20,"align":"center","baseline":"middle","fill":"#e6e6e6"},"encoding":{"text":{"field":"t"}}},
{"data":{"values":[{"t":"2","d":"2021-06-09","p":291.1}]},"mark":{"type":"text","font":"Roboto","fontSize":25,"align":"center","baseline":"middle","fill":"#e6e6e6"},"encoding":{"text":{"field":"t"}}},
{"data":{"values":[{"t":"SOLUSDT","d":"2021-06-03","p":-43.6},{"t":"1D","d":"2021-08-28","p":-43.6}]},"mark":{"type":"text","font":"Roboto","fontSize":24,"fontWeight":500,"align":"left","baseline":"middle","fill":"#dddddd"},"encoding":{"text":{"field":"t"}}},
{"data":{"values":[{"t":"BTCUSDT","d":"2021-06-03","p":-34.6},{"t":"ETHUSDT","d":"2021-06-03","p":-52.6}]},"mark":{"type":"text","font":"Roboto","fontSize":24,"align":"left","baseline":"middle","fill":"#4c4c4c"},"encoding":{"text":{"field":"t"}}},
{"data":{"values":[{"t":"Watchlist","d":"2022-05-04","p":-70.4},{"t":"Chart","d":"2023-01-08","p":-70.4},{"t":"Explore","d":"2023-09-12","p":-70.4},{"t":"Ideas","d":"2024-05-18","p":-70.4},{"t":"Menu","d":"2025-01-21","p":-70.4}]},"mark":{"type":"text","font":"Roboto","fontSize":25,"fontWeight":500,"align":"center","baseline":"middle","fill":"#e8e8e8"},"encoding":{"text":{"field":"t"}}},
{"data":{"values":[{"t":"MD RIDWAN AHMED ISHA...","d":"2025-07-29","p":-76.7}]},"mark":{"type":"text","font":"Roboto","fontSize":24,"align":"left","baseline":"middle","fill":"#e0e0e0"},"encoding":{"text":{"field":"t"}}},
{"data":{"values":[{"t":"S","d":"2025-07-17","p":-76.2}]},"mark":{"type":"text","font":"Roboto","fontSize":15,"align":"left","baseline":"middle","fill":"#e0e0e0"},"encoding":{"text":{"field":"t"}}},
{"data":{"values":[{"k":"pencil","d":"2024-01-14","p":-43.6},{"k":"chart","d":"2024-03-02","p":-43.6},{"k":"grid","d":"2024-04-21","p":-43.6},{"k":"plus","d":"2024-06-09","p":-43.6},{"k":"alarm","d":"2024-07-29","p":-43.6},{"k":"candle","d":"2024-09-14","p":-43.6},{"k":"rewind","d":"2024-11-04","p":-43.6},{"k":"layers","d":"2024-12-23","p":-43.6},{"k":"sliders","d":"2025-02-09","p":-43.6},{"k":"zig","d":"2025-04-10","p":-43.6},{"k":"undo","d":"2025-06-07","p":-43.6},{"k":"full","d":"2025-09-14","p":-43.6},{"k":"bulbplus","d":"2025-11-12","p":-43.6},{"k":"share","d":"2025-12-31","p":-43.6},{"k":"bookmark","d":"2022-05-04","p":-61.7},{"k":"compass","d":"2023-09-12","p":-61.7},{"k":"bulb","d":"2024-05-18","p":-61.7},{"k":"menu","d":"2025-01-21","p":-61.7}]},
"mark":{"type":"point","filled":false,"size":2300,"opacity":1,"stroke":"#ececec","strokeWidth":2.6},
"encoding":{"shape":{"field":"k","type":"nominal","legend":null,"scale":{"domain":["pencil","chart","grid","plus","alarm","candle","rewind","layers","sliders","zig","undo","full","bulbplus","share","bookmark","compass","bulb","menu"],
"range":[
"M0.2,-0.95 L0.55,-0.75 L0,0.25 L-0.4,0.5 L-0.4,0.05 Z M-0.75,0.95 C-0.6,0.5 -0.2,0.55 0.05,0.95",
"M-0.75,-0.05 L-0.35,-0.7 L0,-0.3 L0.6,-0.95 M-0.75,0.95 V0.45 H-0.35 V0.95 Z M-0.35,0.95 V0.15 H0.1 V0.95 Z M0.1,0.95 V-0.05 H0.6 V0.95 Z",
"M-0.6,-0.8 H-0.05 V-0.1 H-0.6 Z M0.05,-0.8 H0.6 V-0.1 H0.05 Z M-0.6,0.1 H-0.05 V0.8 H-0.6 Z M0.05,0.1 H0.6 V0.8 H0.05 Z",
"M0.85,0 A0.85,0.85 0 1 1 -0.85,0 A0.85,0.85 0 1 1 0.85,0 M0,-0.5 V0.5 M-0.5,0 H0.5",
"M0.75,0.1 A0.75,0.8 0 1 1 -0.75,0.1 A0.75,0.8 0 1 1 0.75,0.1 M0,-0.4 V0.3 H-0.3 M-0.85,-0.45 L-0.5,-0.9 M0.85,-0.45 L0.5,-0.9",
"M-0.3,-1 V1 M-0.5,-0.5 H-0.1 V0.6 H-0.5 Z M0.3,-0.7 V0.7 M0.1,-0.3 H0.5 V0.4 H0.1 Z",
"M0.55,-0.65 V0.65 L-0.1,0 Z M0.1,-0.65 L-0.55,0 L0.1,0.65",
"M0,-1 L0.8,-0.1 L0,0.55 L-0.8,-0.1 Z M-0.8,0.4 L0,1 L0.8,0.4",
"M-0.85,-0.5 H0.2 M0.6,-0.5 H0.85 M0.6,-0.5 A0.2,0.2 0 1 1 0.2,-0.5 A0.2,0.2 0 1 1 0.6,-0.5 M-0.85,0.5 H-0.6 M-0.2,0.5 H0.85 M-0.2,0.5 A0.2,0.2 0 1 1 -0.6,0.5 A0.2,0.2 0 1 1 -0.2,0.5",
"M-0.9,0.4 L-0.4,-0.2 L0.1,0.7 L0.9,-0.5 L0.6,-0.8 L0.1,-0.1 L-0.1,-0.6 L-0.7,0.1 M-0.9,0.4 L-0.5,0.85 L-0.15,0.45",
"M-0.1,-0.7 L-0.6,-0.25 L-0.1,0.15 M-0.6,-0.25 H0.2 C0.5,-0.25 0.55,0.1 0.55,0.6",
"M-0.3,-0.9 H-0.7 V-0.3 M0.3,-0.9 H0.7 V-0.3 M-0.3,0.9 H-0.7 V0.3 M0.3,0.9 H0.7 V0.3",
"M0.7,-0.3 A0.7,0.7 0 1 0 -0.7,-0.3 C-0.7,0.1 -0.35,0.35 -0.3,0.55 H0.3 C0.35,0.35 0.7,0.1 0.7,-0.3 M0,-0.65 V0.05 M-0.35,-0.3 H0.35 M-0.3,0.75 H0.3 M-0.2,0.95 H0.2",
"M-0.3,-0.35 H-0.75 V0.95 H0.75 V-0.35 H0.3 M0,0.4 V-0.95 M-0.35,-0.6 L0,-0.95 L0.35,-0.6",
"M-0.55,-0.95 H0.55 V0.95 L0,0.6 L-0.55,0.95 Z M-0.25,-0.5 H0.25 M-0.25,-0.15 H0.25 M-0.25,0.2 H0.25",
"M0.85,0 A0.85,0.85 0 1 1 -0.85,0 A0.85,0.85 0 1 1 0.85,0 M0.45,-0.45 L0.15,0.15 L-0.45,0.45 L-0.15,-0.15 Z",
"M0.65,-0.3 A0.65,0.65 0 1 0 -0.65,-0.3 C-0.65,0.1 -0.35,0.35 -0.3,0.6 H0.3 C0.35,0.35 0.65,0.1 0.65,-0.3 M-0.25,-0.2 H0.25 M0,-0.2 V0.55 M-0.25,0.85 H0.25",
"M-0.7,-0.65 H0.7 M-0.7,0 H0.7 M-0.7,0.65 H0.7"
]}}}},
{"data":{"values":[{"k":"redo","d":"2025-07-27","p":-43.6}]},"mark":{"type":"point","filled":false,"size":2300,"opacity":1,"stroke":"#3a3a3a","strokeWidth":2.6,"shape":"M0.1,-0.7 L0.6,-0.25 L0.1,0.15 M0.6,-0.25 H-0.2 C-0.5,-0.25 -0.55,0.1 -0.55,0.6"}},
{"data":{"values":[{"d":"2023-01-08","p":-61.7}]},"mark":{"type":"point","filled":true,"size":1300,"opacity":1,"fill":"#ececec","shape":"M-0.85,-1 H0.85 Q1,-1 1,-0.85 V0.85 Q1,1 0.85,1 H-0.85 Q-1,1 -1,0.85 V-0.85 Q-1,-1 -0.85,-1 Z"}},
{"data":{"values":[{"d":"2023-01-08","p":-61.7}]},"mark":{"type":"point","filled":false,"size":1300,"opacity":1,"stroke":"#111111","strokeWidth":2.5,"shape":"M-0.6,0.3 C-0.3,-0.5 0,-0.3 0.1,0 C0.2,0.3 0.4,0.2 0.6,-0.25"}},
{"data":{"values":[{"d":"2025-12-14","p":-16},{"d":"2026-01-07","p":-16}]},"mark":{"type":"point","filled":false,"size":1000,"opacity":1,"stroke":"#343434","strokeWidth":2,"shape":"M-0.95,-1.05 H0.95 V1.05 H-0.95 Z"}},
{"data":{"values":[{"k":"gear","d":"2025-12-26","p":-27.8},{"k":"chev","d":"2021-05-20","p":291.1},{"k":"chevs","d":"2026-01-16","p":326.3}]},
"mark":{"type":"point","filled":false,"size":1000,"opacity":1,"stroke":"#c8c8c8","strokeWidth":2.4},
"encoding":{"shape":{"field":"k","type":"nominal","legend":null,"scale":{"domain":["gear","chev","chevs"],"range":["M0.45,0 A0.45,0.45 0 1 1 -0.45,0 A0.45,0.45 0 1 1 0.45,0 M0.12,0 A0.12,0.12 0 1 1 -0.12,0 A0.12,0.12 0 1 1 0.12,0","M-0.6,-0.25 L0,0.3 L0.6,-0.25","M-0.25,-0.1 L0,0.15 L0.25,-0.1"]}}}},
{"data":{"values":[{"k":"image","d":"2021-10-15","p":337.8},{"k":"bell","d":"2021-11-04","p":337.8},{"k":"pen","d":"2025-10-24","p":337.8},{"k":"wifi","d":"2025-11-12","p":337.8},{"k":"batt","d":"2026-01-01","p":337.8},{"k":"diamond","d":"2025-07-05","p":-76.5}]},
"mark":{"type":"point","filled":true,"size":700,"opacity":1,"fill":"#efefef"},
"encoding":{"shape":{"field":"k","type":"nominal","legend":null,"scale":{"domain":["image","bell","pen","wifi","batt","diamond"],"range":[
"M-0.8,-0.8 H0.8 V0.8 H-0.8 Z M-0.55,0.5 H0.55 L0.2,-0.1 L-0.05,0.2 L-0.25,0 Z",
"M0,-0.95 C0.5,-0.85 0.55,-0.4 0.55,0 L0.8,0.4 H-0.8 L-0.55,0 C-0.55,-0.4 -0.5,-0.85 0,-0.95 Z M-0.2,0.6 H0.2 V0.9 H-0.2 Z",
"M0.45,-0.8 L0.75,-0.5 L-0.3,0.55 L-0.7,0.7 L-0.55,0.3 Z",
"M-0.9,-0.3 C-0.4,-0.8 0.4,-0.8 0.9,-0.3 L0,0.75 Z",
"M-0.35,-0.8 H0.35 V0.8 H-0.35 Z",
"M0,-1 L0.7,0 L0,1 L-0.7,0 Z"
]}}}},
{"data":{"values":[{"d":"2021-05-25","p":-13.3}]},"mark":{"type":"point","filled":true,"size":3100,"opacity":1,"fill":"#f2f2f2","shape":"M-1,-0.48 H-0.22 V0.5 H-0.58 V-0.1 H-1 Z M0.1,-0.3 A0.14,0.14 0 1 1 -0.18,-0.3 A0.14,0.14 0 1 1 0.1,-0.3 M0.38,-0.48 H1 L0.55,0.5 H-0.08 Z"}},
{"data":{"values":[{"d":"2025-04-15","p":-17}]},"mark":{"type":"point","filled":false,"size":1300,"opacity":1,"stroke":"#a12fc4","strokeWidth":2.5,"shape":"M1,0 A1,1 0 1 1 -1,0 A1,1 0 1 1 1,0 M0.15,-0.55 L-0.3,0.1 H0.1 L-0.15,0.55 L0.35,-0.1 H-0.05 Z"}},
{"data":{"values":[{"d":"2022-02-05","p":325.9}]},"mark":{"type":"point","filled":true,"shape":"circle","size":1300,"fill":"#0a2e27","opacity":1}},
{"data":{"values":[{"d":"2022-02-05","p":325.9}]},"mark":{"type":"point","filled":true,"shape":"circle","size":300,"fill":"#14a387","opacity":1}},
{"data":{"values":[{"d":"2021-05-20","p":327.5}]},"mark":{"type":"point","filled":true,"shape":"circle","size":420,"fill":"#26a690","opacity":1}},
{"data":{"values":[{"d":"2021-05-13","p":325.2},{"d":"2021-05-19","p":-43.6}]},"mark":{"type":"point","filled":true,"shape":"circle","size":800,"fill":"#1c2230","opacity":1}},
{"data":{"values":[{"d":"2021-05-13","p":325.2},{"d":"2021-05-19","p":-43.6}]},"mark":{"type":"point","filled":false,"size":260,"opacity":1,"stroke":"#4fc8d8","strokeWidth":2.5,"shape":"M-0.7,-0.6 H0.8 M-0.8,0 H0.7 M-0.7,0.6 H0.8"}}
]
}
